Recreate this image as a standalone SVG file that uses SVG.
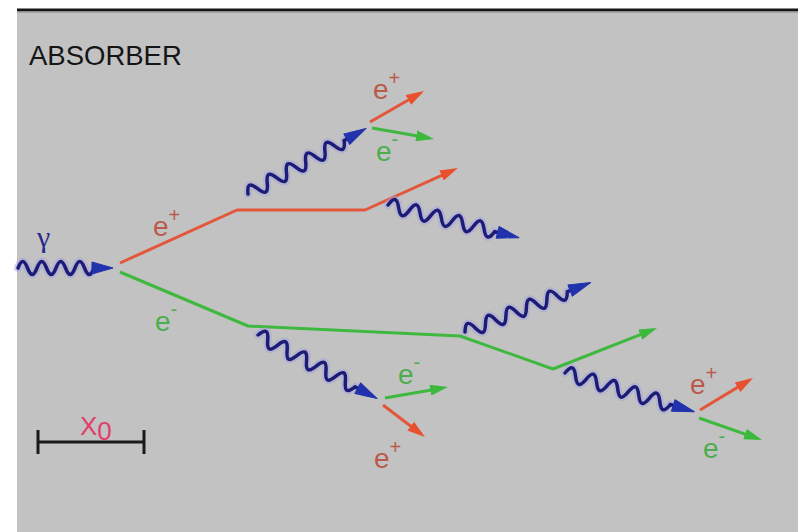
<svg xmlns="http://www.w3.org/2000/svg" width="798" height="532" viewBox="0 0 798 532">
  <style>
    .txt { font-family: "Liberation Sans", Arial, sans-serif; }
    .pos { fill: #b95a4a; font-size: 28px; }
    .neg { fill: #4cad4c; font-size: 28px; }
    .sup { font-size: 20px; }
    .ep { fill: none; stroke: #e4563a; stroke-width: 3; stroke-linejoin: round; }
    .em { fill: none; stroke: #3fb83f; stroke-width: 3; stroke-linejoin: round; }
    .halo { fill: none; stroke: #a4a4dc; stroke-width: 8; stroke-opacity: 0.5; stroke-linecap: round; }
    .wave { fill: none; stroke: #1c1c78; stroke-width: 3.5; stroke-linecap: round; }
    .head { fill: #2132ac; stroke: #2132ac; stroke-width: 1; stroke-linejoin: round; }
  </style>
  <defs>
    <marker id="arrRed" markerUnits="userSpaceOnUse" markerWidth="18" markerHeight="11" refX="13" refY="5.5" orient="auto">
      <path d="M0,0 L18,5.5 L0,11 z" fill="#e8502f"/>
    </marker>
    <marker id="arrGreen" markerUnits="userSpaceOnUse" markerWidth="18" markerHeight="11" refX="13" refY="5.5" orient="auto">
      <path d="M0,0 L18,5.5 L0,11 z" fill="#3cb83c"/>
    </marker>
    <!-- wavy photon, 135 px long, pointing along +x -->
    <path id="wavePath" d="M0,0 c4,-9.3 7,-9.3 11,0 s7,9.3 11,0 s7,-9.3 11,0 s7,9.3 11,0 s7,-9.3 11,0 s7,9.3 11,0 s7,-9.3 11,0 s7,9.3 11,0 s7,-9.3 11,0 s7,9.3 11,0 l5,0"/>
    <g id="photon">
      <use href="#wavePath" class="halo"/>
      <use href="#wavePath" class="wave"/>
      <polygon class="head" points="135,0 113,-6 113,6"/>
    </g>
    <!-- shorter incoming photon, 95 px long -->
    <path id="wavePathIn" d="M0,0 c3.4,-8.7 6.1,-8.7 9.5,0 s6.1,8.7 9.5,0 s6.1,-8.7 9.5,0 s6.1,8.7 9.5,0 s6.1,-8.7 9.5,0 s6.1,8.7 9.5,0 s6.1,-8.7 9.5,0 s6.1,8.7 9.5,0 l2,0"/>
    <g id="photonIn">
      <use href="#wavePathIn" class="halo"/>
      <use href="#wavePathIn" class="wave"/>
      <polygon class="head" points="95,0 74,-6 74,6"/>
    </g>
  </defs>

  <!-- absorber block -->
  <rect x="17" y="10" width="781" height="522" fill="#c2c2c2"/>
  <rect x="17" y="8.5" width="781" height="2.5" fill="#151515"/>
  <rect x="17" y="11" width="781" height="1.5" fill="#8a8a8a"/>

  <text class="txt" x="29" y="65" font-size="27.5" fill="#151515">ABSORBER</text>

  <!-- scale bar: one radiation length -->
  <g id="scale">
    <path d="M38,442 H144 M38,430 V454 M144,430 V454" fill="none" stroke="#1a1a1a" stroke-width="3"/>
    <text class="txt" x="80" y="435" font-size="26" fill="#e0406a">X<tspan dy="5">0</tspan></text>
  </g>

  <!-- charged tracks -->
  <g id="tracks">
    <polyline id="trk-pos" class="ep" points="120,263 237,210 365,210 453.4,170.1" marker-end="url(#arrRed)"/>
    <polyline id="trk-neg" class="em" points="120,272 248,326 460,336 553,369 652.4,329.8" marker-end="url(#arrGreen)"/>
    <line class="ep" x1="370" y1="122" x2="419.7" y2="93.5" marker-end="url(#arrRed)" stroke="#ec4b2c"/>
    <line class="em" x1="372" y1="128" x2="429.1" y2="138.1" marker-end="url(#arrGreen)"/>
    <line class="em" x1="385" y1="398" x2="443.1" y2="387.9" marker-end="url(#arrGreen)"/>
    <line class="ep" x1="383" y1="405" x2="421" y2="434" marker-end="url(#arrRed)"/>
    <line class="ep" x1="700" y1="410" x2="748.7" y2="380.6" marker-end="url(#arrRed)"/>
    <line class="em" x1="699" y1="418" x2="757.3" y2="438.3" marker-end="url(#arrGreen)"/>
  </g>

  <!-- photons -->
  <g id="photons">
    <use href="#photonIn" transform="translate(18,268)"/>
    <use href="#photon" transform="translate(248,194) rotate(-29.05)"/>
    <use href="#photon" transform="translate(388,205) rotate(14)"/>
    <use href="#photon" transform="translate(258,335) rotate(28.07)"/>
    <use href="#photon" transform="translate(465,332) rotate(-21.5)"/>
    <use href="#photon" transform="translate(565,373) rotate(16.7)"/>
  </g>

  <!-- labels -->
  <g id="labels" class="txt">
    <text x="37" y="247" font-family="Liberation Serif, serif" font-size="30" fill="#28288a">γ</text>
    <text class="pos" x="153" y="236">e<tspan class="sup" dy="-14">+</tspan></text>
    <text class="neg" x="155" y="331">e<tspan class="sup" dy="-15">-</tspan></text>
    <text class="pos" x="373" y="99">e<tspan class="sup" dy="-14">+</tspan></text>
    <text class="neg" x="376" y="161">e<tspan class="sup" dy="-15">-</tspan></text>
    <text class="neg" x="398" y="384">e<tspan class="sup" dy="-15">-</tspan></text>
    <text class="pos" x="374" y="468">e<tspan class="sup" dy="-14">+</tspan></text>
    <text class="pos" x="690" y="394">e<tspan class="sup" dy="-14">+</tspan></text>
    <text class="neg" x="703" y="458">e<tspan class="sup" dy="-15">-</tspan></text>
  </g>
</svg>
